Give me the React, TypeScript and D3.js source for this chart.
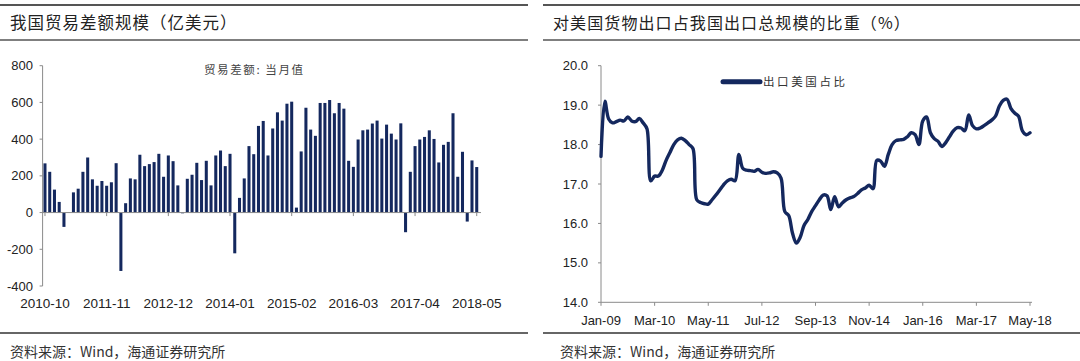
import React from "react";
import * as d3 from "d3";

// ---------- Data ----------
const barStartMonth = "2010-10";
const barTickLabels = ["2010-10", "2011-11", "2012-12", "2014-01", "2015-02", "2016-03", "2017-04", "2018-05"];
const tradeBalance = [
  268, 222, 125, 58, -78, 1, 110, 130, 222, 300, 181, 146, 172, 146, 165, 269,
  -318, 51, 186, 181, 315, 253, 264, 275, 320, 195, 311, 280, 148, -4, 184, 206,
  271, 177, 282, 148, 311, 338, 253, 320, -222, 80, 186, 362, 318, 472, 499, 311,
  458, 546, 501, 593, 604, 27, 333, 571, 452, 418, 597, 597, 613, 541, 597, 566,
  282, 249, 398, 448, 452, 485, 501, 403, 479, 430, 398, 486, -107, 222, 362, 398,
  412, 448, 401, 273, 369, 385, 541, 195, 331, -49, 284, 248,
];
const barYTicks = [-400, -200, 0, 200, 400, 600, 800];

const lineTickLabels = ["Jan-09", "Mar-10", "May-11", "Jul-12", "Sep-13", "Nov-14", "Jan-16", "Mar-17", "May-18"];
const usShare = [
  17.7, 19.1, 18.65, 18.55, 18.58, 18.62, 18.6, 18.7, 18.6, 18.58, 18.66, 18.55, 18.4, 17.08, 17.2, 17.2,
  17.35, 17.6, 17.8, 18.0, 18.12, 18.16, 18.1, 18.0, 17.9, 16.6, 16.53, 16.5, 16.49, 16.6, 16.72, 16.85,
  16.98, 17.08, 17.12, 17.08, 17.75, 17.4, 17.35, 17.34, 17.32, 17.37, 17.3, 17.27, 17.28, 17.31, 17.28, 17.15,
  16.3, 16.2, 15.75, 15.5, 15.65, 15.95, 16.1, 16.3, 16.45, 16.6, 16.72, 16.7, 16.35, 16.68, 16.42, 16.52,
  16.6, 16.65, 16.68, 16.76, 16.85, 16.9, 16.97, 16.88, 17.6, 17.58, 17.45, 17.75, 18.0, 18.1, 18.12, 18.13,
  18.2, 18.3, 18.25, 18.0, 18.6, 18.7, 18.3, 18.15, 18.08, 17.95, 18.05, 18.2, 18.35, 18.43, 18.42, 18.35,
  18.75, 18.48, 18.4, 18.42, 18.48, 18.55, 18.62, 18.72, 18.98, 19.12, 19.15, 18.92, 18.8, 18.72, 18.35, 18.25,
  18.3,
];
const lineYTicks = [14, 15, 16, 17, 18, 19, 20];

const NAVY = "#14285e";
const AXIS = "#8a8a8a";
const TEXT = "#222";
const CJK = "'Noto Sans CJK SC', sans-serif";
const LAT = "'Liberation Sans', Arial, sans-serif";

export default function App() {
  // ---- Left: bar chart ----
  const idx = tradeBalance.map((_, i) => i);
  const xb = d3.scaleBand<number>().domain(idx).range([42.6, 479.1]).paddingInner(0.36).paddingOuter(0.18);
  const yb = d3.scaleLinear().domain([-400, 800]).range([286, 65.7]);
  const startParts = barStartMonth.split("-").map(Number);
  const monthLabel = (i: number) => {
    const t = startParts[0] * 12 + (startParts[1] - 1) + i;
    const y = Math.floor(t / 12);
    const m = (t % 12) + 1;
    return `${y}-${m < 10 ? "0" + m : m}`;
  };
  const barCats = idx.map(monthLabel);
  const bandCenter = (i: number) => (xb(i) as number) + xb.bandwidth() / 2;

  // ---- Right: line chart ----
  const xl = d3.scaleLinear().domain([0, usShare.length - 1]).range([601, 1030]);
  const yl = d3.scaleLinear().domain([14, 20]).range([302.3, 65.7]);
  const line = d3
    .line<number>()
    .x((_, i) => xl(i))
    .y((d) => yl(d))
    .curve(d3.curveCatmullRom.alpha(0.5));
  const lineTickIdx = lineTickLabels.map((_, i) => i * 14);

  return (
    <div style={{ position: "absolute", left: 0, top: 0 }}>
      <svg width={1080} height={361} style={{ display: "block", background: "#fff" }}>
        {/* Header / footer rules */}
        <line x1={0} x2={528} y1={5} y2={5} stroke="#555" strokeWidth={2} />
        <line x1={0} x2={528} y1={40} y2={40} stroke="#555" strokeWidth={1.5} />
        <line x1={543} x2={1080} y1={5} y2={5} stroke="#555" strokeWidth={2} />
        <line x1={543} x2={1080} y1={40} y2={40} stroke="#555" strokeWidth={1.5} />
        <line x1={0} x2={528} y1={333} y2={333} stroke="#333" strokeWidth={1.5} />
        <line x1={543} x2={1080} y1={333} y2={333} stroke="#333" strokeWidth={1.5} />

        <text x={10} y={29} fontFamily={CJK} fontSize={16.5} fill={TEXT} letterSpacing={1.0}>
          我国贸易差额规模（亿美元）
        </text>
        <text x={553} y={29} fontFamily={CJK} fontSize={16} fill={TEXT} letterSpacing={1.1}>
          对美国货物出口占我国出口总规模的比重（%）
        </text>
        <text x={10} y={357} fontFamily={CJK} fontSize={14} fill="#333">
          资料来源：Wind，海通证券研究所
        </text>
        <text x={560} y={357} fontFamily={CJK} fontSize={14} fill="#333">
          资料来源：Wind，海通证券研究所
        </text>

        {/* ===== Left chart ===== */}
        {tradeBalance.map((v, i) => (
          <rect
            key={barCats[i]}
            x={xb(i)}
            width={xb.bandwidth()}
            y={yb(Math.max(0, v))}
            height={Math.abs(yb(v) - yb(0))}
            fill={NAVY}
          />
        ))}
        <line x1={42.6} x2={42.6} y1={65.7} y2={286} stroke={AXIS} strokeWidth={1} />
        {barYTicks.map((t) => (
          <g key={t}>
            <line x1={39.6} x2={42.6} y1={yb(t)} y2={yb(t)} stroke={AXIS} />
            <text x={33} y={yb(t) + 4.5} textAnchor="end" fontFamily={LAT} fontSize={13} fill={TEXT}>
              {t}
            </text>
          </g>
        ))}
        <line x1={42.6} x2={481} y1={yb(0)} y2={yb(0)} stroke={AXIS} strokeWidth={1} />
        {barTickLabels.map((lab) => {
          const i = barCats.indexOf(lab);
          const cx = bandCenter(i);
          return (
            <g key={lab}>
              <line x1={cx} x2={cx} y1={yb(0)} y2={yb(0) + 3.5} stroke={AXIS} />
              <text x={cx} y={308} textAnchor="middle" fontFamily={LAT} fontSize={13.5} fill={TEXT}>
                {lab}
              </text>
            </g>
          );
        })}
        <text x={204} y={74} fontFamily={CJK} fontSize={11.5} fill="#444" letterSpacing={1.6}>
          贸易差额: 当月值
        </text>

        {/* ===== Right chart ===== */}
        <line x1={601} x2={601} y1={65.7} y2={302.3} stroke={AXIS} />
        {lineYTicks.map((t) => (
          <g key={t}>
            <line x1={598} x2={601} y1={yl(t)} y2={yl(t)} stroke={AXIS} />
            <text x={588} y={yl(t) + 4.5} textAnchor="end" fontFamily={LAT} fontSize={13} fill={TEXT}>
              {t.toFixed(1)}
            </text>
          </g>
        ))}
        <line x1={601} x2={1032} y1={302.3} y2={302.3} stroke={AXIS} />
        {lineTickLabels.map((lab, k) => {
          const x = xl(lineTickIdx[k]);
          return (
            <g key={lab}>
              <line x1={x} x2={x} y1={302.3} y2={305.8} stroke={AXIS} />
              <text x={x} y={325} textAnchor="middle" fontFamily={LAT} fontSize={13} fill={TEXT}>
                {lab}
              </text>
            </g>
          );
        })}
        <path d={line(usShare) || ""} fill="none" stroke={NAVY} strokeWidth={3.4} strokeLinejoin="round" strokeLinecap="round" />
        <line x1={723} x2={760} y1={81.7} y2={81.7} stroke={NAVY} strokeWidth={5} strokeLinecap="round" />
        <text x={763} y={86} fontFamily={CJK} fontSize={11.5} fill="#333" letterSpacing={2.6}>
          出口美国占比
        </text>
      </svg>
    </div>
  );
}
